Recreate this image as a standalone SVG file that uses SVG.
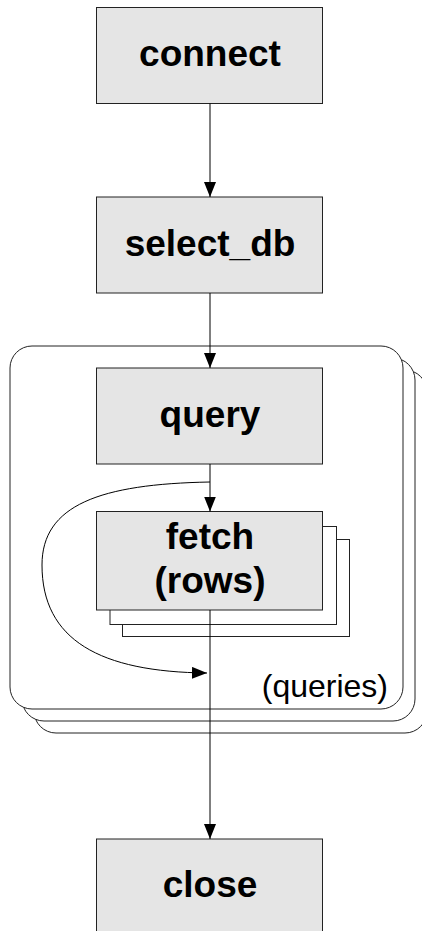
<svg xmlns="http://www.w3.org/2000/svg" width="422" height="931" viewBox="0 0 422 931">
<defs>
<style>
.box{fill:#e5e5e5;stroke:#222;stroke-width:1}
.stack{fill:#fff;stroke:#222;stroke-width:1}
.lbl{font-family:"Liberation Sans",Arial,sans-serif;font-weight:bold;font-size:37px;text-anchor:middle;fill:#000}
.note{font-family:"Liberation Sans",Arial,sans-serif;font-size:32px;text-anchor:end;fill:#000}
.edge{fill:none;stroke:#000;stroke-width:1}
</style>
<marker id="arr" markerWidth="15" markerHeight="12" refX="15" refY="6" orient="auto" markerUnits="userSpaceOnUse">
<path d="M0,0 L15,6 L0,12 Z" fill="#000"/>
</marker>
</defs>
<rect width="422" height="931" fill="#fff"/>
<g id="queries-group">
<rect class="stack" x="34" y="370" width="393" height="363" rx="22"/>
<rect class="stack" x="22" y="358" width="393" height="363" rx="22"/>
<rect class="stack" x="10" y="346" width="393" height="363" rx="22"/>
<text class="note" x="388" y="697">(queries)</text>
</g>
<g id="connect">
<rect class="box" x="96.5" y="7.5" width="226" height="96"/>
<text class="lbl" x="210" y="66">connect</text>
</g>
<g id="select_db">
<rect class="box" x="96.5" y="197" width="226" height="96"/>
<text class="lbl" x="210" y="255.5">select_db</text>
</g>
<g id="query">
<rect class="box" x="96.5" y="368" width="226" height="96"/>
<text class="lbl" x="210" y="427">query</text>
</g>
<g id="fetch">
<rect class="stack" x="122.5" y="539.5" width="227" height="97"/>
<rect class="stack" x="110" y="526.5" width="226.5" height="98"/>
<rect class="box" x="96.5" y="511.5" width="226" height="98.5"/>
<text class="lbl" x="210" y="549">fetch</text>
<text class="lbl" x="210" y="593">(rows)</text>
</g>
<g id="close">
<rect class="box" x="96.5" y="839" width="226" height="96"/>
<text class="lbl" x="210" y="897">close</text>
</g>
<g id="connectors">
<line class="edge" x1="210" y1="103.5" x2="210" y2="197" marker-end="url(#arr)"/>
<line class="edge" x1="210" y1="293" x2="210" y2="368" marker-end="url(#arr)"/>
<line class="edge" x1="210" y1="464" x2="210" y2="511.5" marker-end="url(#arr)"/>
<path class="edge" d="M210,482 C100,484 42,505 42,565 C42,640 100,672 207,673" marker-end="url(#arr)"/>
<line class="edge" x1="210" y1="610" x2="210" y2="839" marker-end="url(#arr)"/>
</g>
</svg>
